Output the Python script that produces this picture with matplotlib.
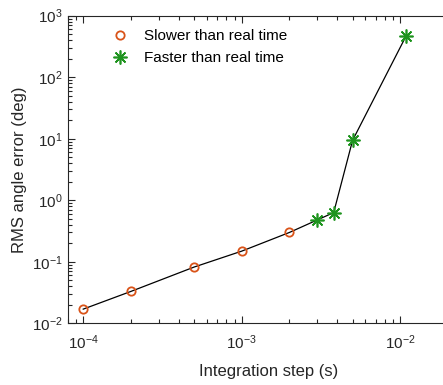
import numpy as np
import matplotlib.pyplot as plt
from matplotlib.ticker import LogLocator, NullFormatter

plt.rcParams['font.family'] = ['Liberation Sans', 'DejaVu Sans']
plt.rcParams['mathtext.default'] = 'regular'

# integration step (s) and RMS angle error (deg)
slow_step = [1e-4, 2e-4, 5e-4, 1e-3, 2e-3]
slow_err = [0.017, 0.033, 0.082, 0.149, 0.30]
fast_step = [3e-3, 3.8e-3, 5e-3, 1.09e-2]
fast_err = [0.48, 0.63, 9.4, 473]

all_step = slow_step + fast_step
all_err = slow_err + fast_err

W, H = 443, 385
fig = plt.figure(figsize=(W / 100, H / 100), dpi=100)
# axes runs past the right edge, like in the reference
ax = fig.add_axes([67.7 / W, (H - 323.3) / H, (470 - 67.7) / W, (323.3 - 15.7) / H])

txt = '#262626'
ax.plot(all_step, all_err, color='k', lw=0.9, zorder=1)
ax.plot(slow_step, slow_err, ls='none', marker='o', ms=6, mfc='none',
        mec='#D95319', mew=1.3, label='Slower than real time', zorder=2)
ax.plot(fast_step, fast_err, ls='none', marker=(8, 2, 0), ms=10,
        mec='#1f941f', mew=1.2, label='Faster than real time', zorder=2)

ax.set_xscale('log')
ax.set_yscale('log')
ax.set_xlim(10 ** -4.098, 10 ** (-2 + (470 - 400.3) / 158.5))
ax.set_ylim(1e-2, 1e3)
ax.set_xticks([1e-4, 1e-3, 1e-2])
ax.set_yticks([1e-2, 1e-1, 1e0, 1e1, 1e2, 1e3])
ax.set_xticks([m * 10.0 ** e for e in (-5, -4, -3, -2) for m in range(2, 10)
               if 10 ** -4.098 < m * 10.0 ** e < 10 ** -1.56], minor=True)
ax.set_yticks([m * 10.0 ** e for e in (-2, -1, 0, 1, 2) for m in range(2, 10)], minor=True)
ax.xaxis.set_minor_formatter(NullFormatter())
ax.yaxis.set_minor_formatter(NullFormatter())

ax.tick_params(which='both', direction='in', top=True, right=False,
               labelsize=11, colors=txt, width=0.8)
ax.tick_params(which='major', length=5)
ax.tick_params(which='minor', length=3)
ax.tick_params(axis='x', pad=7)
for s in ax.spines.values():
    s.set_color(txt)
    s.set_linewidth(0.8)
ax.spines['right'].set_visible(False)

ax.set_xlabel('Integration step (s)', fontsize=12, color=txt, labelpad=9)
ax.set_ylabel('RMS angle error (deg)', fontsize=12, color=txt)

ax.legend(loc='upper left', bbox_to_anchor=(0.057, 1.0), frameon=False,
          fontsize=11, handletextpad=0.6, labelspacing=0.5, borderaxespad=0.5)

fig.savefig('out.png', dpi=100)
